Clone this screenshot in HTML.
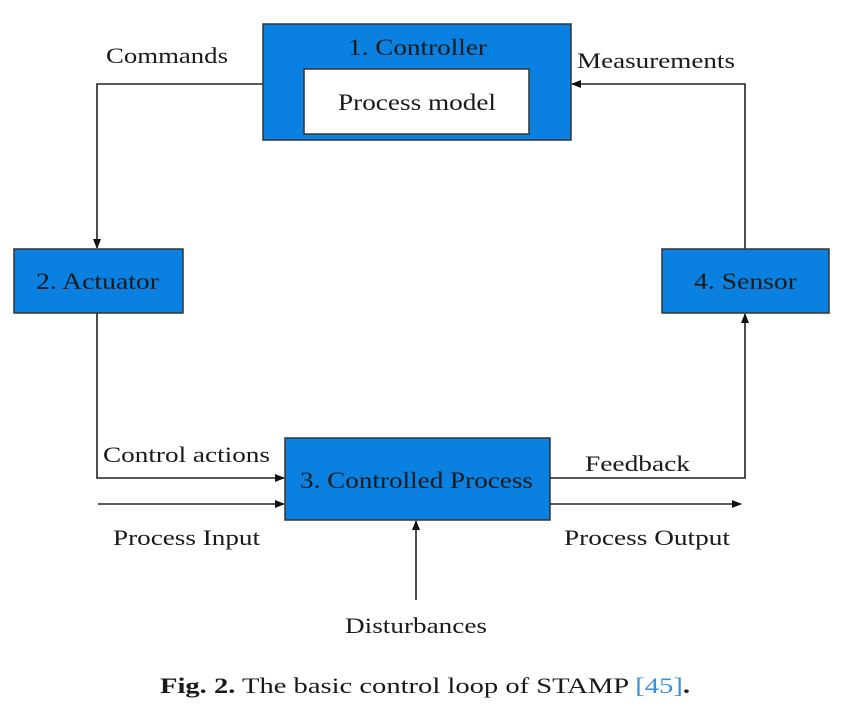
<!DOCTYPE html>
<html><head><style>
body{margin:0;background:#fff;}
</style></head><body>
<svg width="849" height="704" viewBox="0 0 849 704" xmlns="http://www.w3.org/2000/svg" font-family="'Liberation Serif','DejaVu Serif','Times New Roman',serif">
<defs><marker id="a" markerWidth="10" markerHeight="10" refX="9" refY="5" orient="auto" markerUnits="userSpaceOnUse"><path d="M0,1 L10,5 L0,9 z" fill="#111"/></marker></defs>
<g stroke="#222" stroke-width="1.6" fill="none">
<polyline points="263,84 97,84 97,248" marker-end="url(#a)"/>
<polyline points="97,313 97,478 284,478" marker-end="url(#a)"/>
<line x1="98" y1="504" x2="284" y2="504" marker-end="url(#a)"/>
<polyline points="550,478 745,478 745,314" marker-end="url(#a)"/>
<polyline points="745,249 745,84 572,84" marker-end="url(#a)"/>
<line x1="550" y1="504" x2="741" y2="504" marker-end="url(#a)"/>
<line x1="416" y1="600" x2="416" y2="521" marker-end="url(#a)"/>
</g>
<g fill="#0a80e0" stroke="#333" stroke-width="1.5">
<rect x="263" y="24" width="308" height="116"/>
<rect x="14" y="249" width="169" height="64"/>
<rect x="662" y="249" width="167" height="64"/>
<rect x="285" y="438" width="265" height="82"/>
</g>
<rect x="304" y="69" width="225" height="65" fill="#fff" stroke="#333" stroke-width="1.5"/>
<g font-size="23" fill="#1a1a1a" lengthAdjust="spacingAndGlyphs">
<text x="348" y="55" textLength="139" lengthAdjust="spacingAndGlyphs">1. Controller</text>
<text x="338" y="110" textLength="158" lengthAdjust="spacingAndGlyphs">Process model</text>
<text x="36" y="289" textLength="123" lengthAdjust="spacingAndGlyphs">2. Actuator</text>
<text x="694" y="289" textLength="103" lengthAdjust="spacingAndGlyphs">4. Sensor</text>
<text x="300" y="488" textLength="233" lengthAdjust="spacingAndGlyphs">3. Controlled Process</text>
</g>
<g font-size="22" fill="#1a1a1a">
<text x="106" y="63" textLength="122" lengthAdjust="spacingAndGlyphs">Commands</text>
<text x="577" y="68" textLength="158" lengthAdjust="spacingAndGlyphs">Measurements</text>
<text x="103" y="462" textLength="167" lengthAdjust="spacingAndGlyphs">Control actions</text>
<text x="585" y="471" textLength="105" lengthAdjust="spacingAndGlyphs">Feedback</text>
<text x="113" y="545" textLength="147" lengthAdjust="spacingAndGlyphs">Process Input</text>
<text x="564" y="545" textLength="166" lengthAdjust="spacingAndGlyphs">Process Output</text>
<text x="345" y="633" textLength="142" lengthAdjust="spacingAndGlyphs">Disturbances</text>
</g>
<text x="160" y="693" font-size="22" fill="#1a1a1a" textLength="530" lengthAdjust="spacingAndGlyphs"><tspan font-weight="bold">Fig. 2.</tspan> The basic control loop of STAMP <tspan fill="#3a8fd8">[45]</tspan><tspan font-weight="bold">.</tspan></text>
</svg>
</body></html>
